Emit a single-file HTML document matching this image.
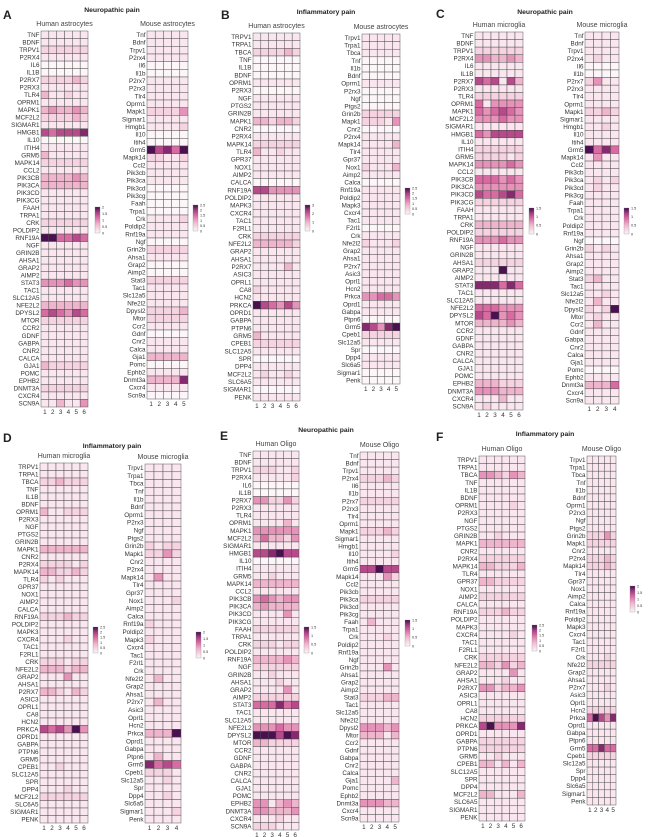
<!DOCTYPE html>
<html><head><meta charset="utf-8">
<style>
html,body{margin:0;padding:0;background:#fff;width:650px;height:837px;overflow:hidden}
svg{display:block}
text{font-family:"Liberation Sans",sans-serif}
</style></head>
<body>
<svg id="s" width="650" height="837" viewBox="0 0 650 837" xmlns="http://www.w3.org/2000/svg">
<defs><linearGradient id="cb" x1="0" y1="1" x2="0" y2="0">
<stop offset="0" stop-color="#fdf6f9"/><stop offset="0.35" stop-color="#eeb5cd"/><stop offset="0.6" stop-color="#d86ba1"/><stop offset="0.8" stop-color="#a23f83"/><stop offset="1" stop-color="#3e0d48"/></linearGradient></defs>
</svg>
<script>
const C=["#fdf6f9","#f9e6ee","#f5d3e1","#eeb5cd","#e693b9","#d86ba1","#b74a8a","#86296f","#4a1150"];
const svg=document.getElementById('s');let h='';
function t(x,y,s,o){o=o||{};h+=`<text x="${x}" y="${y}" font-size="${o.fs||6.3}" fill="${o.c||'#333'}" text-anchor="${o.a||'end'}" ${o.b?'font-weight="bold"':''}>${s}</text>`;}
function grid(x0,x1,top,bot,n,rows,sub){
 const cw=(x1-x0)/n, rh=(bot-top)/rows.length;
 rows.forEach((r,i)=>{const [name,v]=r.split(':');const lv=v.length==1?v.repeat(n):v;
  for(let j=0;j<n;j++){h+=`<rect x="${(x0+j*cw).toFixed(2)}" y="${(top+i*rh).toFixed(2)}" width="${cw.toFixed(2)}" height="${rh.toFixed(2)}" fill="${C[+lv[j]]}" stroke="#4a4a4a" stroke-width="0.45"/>`;}
  t(x0-1.5,top+i*rh+rh/2+2.2,name);});
 for(let j=0;j<n;j++)t(x0+j*cw+cw/2,bot+7,j+1,{a:'middle'});
 t((x0+x1)/2,top-5,sub,{a:'middle',fs:7,c:'#444'});
}
function cbar(x,y,labs){h+=`<rect x="${x}" y="${y}" width="5" height="26" fill="url(#cb)" stroke="#888" stroke-width="0.3"/>`;
 labs.forEach((l,i)=>t(x+7,y+26-i*26/(labs.length-1)+1.3,l,{a:'start',fs:3.8}));}
function head(L,lx,ly,title,tx,ty){t(lx,ly,L,{a:'start',fs:12,b:1,c:'#222'});t(tx,ty,title,{a:'middle',fs:6.8,b:1,c:'#222'});}
const sp=s=>s.trim().split(/\s+/);

// A
head('A',3,19,'Neuropathic pain',112,12);
grid(41,88,31,407,6,sp(`TNF:1 BDNF:1 TRPV1:2 P2RX4:1 IL6:0 IL1B:0 P2RX7:222232 P2RX3:1 TLR4:311211 OPRM1:1 MAPK1:343343 MCF2L2:222232 SIGMAR1:1 HMGB1:656667 IL10:0 ITIH4:1 GRM5:311111 MAPK14:2 CCL2:1 PIK3CB:333343 PIK3CA:3 PIK3CD:1 PIK3CG:1 FAAH:1 TRPA1:1 CRK:2 POLDIP2:1 RNF19A:885565 NGF:1 GRIN2B:1 AHSA1:1 GRAP2:1 AIMP2:1 STAT3:444544 TAC1:1 SLC12A5:1 NFE2L2:3 DPYSL2:565465 MTOR:2 CCR2:1 GDNF:1 GABPA:1 CNR2:1 CALCA:1 GJA1:322222 POMC:1 EPHB2:1 DNMT3A:2 CXCR4:1 SCN9A:113114`),'Human astrocytes');
grid(147,188,31,399,5,sp(`Tnf:1 Bdnf:1 Trpv1:1 P2rx4:1 Il6:0 Il1b:0 P2rx7:1 P2rx3:1 Tlr4:1 Oprm1:1 Mapk1:22224 Sigmar1:1 Hmgb1:11112 Il10:0 Itih4:0 Grm5:86758 Mapk14:22112 Ccl2:1 Pik3cb:1 Pik3ca:1 Pik3cd:0 Pik3cg:0 Faah:0 Trpa1:0 Crk:11112 Poldip2:1 Rnf19a:1 Ngf:0 Grin2b:2 Ahsa1:1 Grap2:0 Aimp2:0 Stat3:2 Tac1:1 Slc12a5:1 Nfe2l2:1 Dpysl2:22223 Mtor:2 Ccr2:1 Gdnf:0 Cnr2:1 Calca:1 Gja1:3 Pomc:0 Ephb2:1 Dnmt3a:33337 Cxcr4:1 Scn9a:0`),'Mouse astrocytes');
cbar(95,207,['0','0.5','1','1.5','2']);cbar(193,205,['0','0.5','1','1.5','2','2.5']);

// B
head('B',221,19,'Inflammatory pain',326,14);
grid(253,300,33,401,6,sp(`TRPV1:1 TRPA1:1 TBCA:222232 TNF:0 IL1B:0 BDNF:0 OPRM1:1 P2RX3:0 NGF:1 PTGS2:1 GRIN2B:1 MAPK1:332332 CNR2:0 P2RX4:1 MAPK14:2 TLR4:311211 GPR37:1 NOX1:1 AIMP2:1 CALCA:0 RNF19A:664444 POLDIP2:1 MAPK3:1 CXCR4:1 TAC1:1 F2RL1:1 CRK:2 NFE2L2:333332 GRAP2:1 AHSA1:1 P2RX7:111131 ASIC3:1 OPRL1:1 CA8:211111 HCN2:1 PRKCA:865464 OPRD1:1 GABPA:1 PTPN6:1 GRM5:311111 CPEB1:2 SLC12A5:1 SPR:0 DPP4:1 MCF2L2:121121 SLC6A5:1 SIGMAR1:0 PENK:1`),'Human astrocytes');
grid(362,400,34,384,5,sp(`Trpv1:1 Trpa1:1 Tbca:1 Tnf:0 Il1b:0 Bdnf:0 Oprm1:1 P2rx3:0 Ngf:0 Ptgs2:0 Grin2b:2 Mapk1:22214 Cnr2:0 P2rx4:1 Mapk14:11113 Tlr4:1 Gpr37:1 Nox1:21113 Aimp2:1 Calca:0 Rnf19a:1 Poldip2:1 Mapk3:1 Cxcr4:1 Tac1:1 F2rl1:0 Crk:1 Nfe2l2:21112 Grap2:1 Ahsa1:1 P2rx7:1 Asic3:1 Oprl1:1 Hcn2:1 Prkca:44554 Oprd1:1 Gabpa:1 Ptpn6:0 Grm5:76478 Cpeb1:2 Slc12a5:1 Spr:0 Dpp4:1 Slc6a5:1 Sigmar1:0 Penk:0`),'Mouse astrocytes');
cbar(305,205,['0','1','2','3']);cbar(405,188,['0','0.5','1','1.5','2','2.5']);

// C
head('C',436,18,'Neuropathic pain',545,14);
grid(475,523,32,410,6,sp(`TNF:1 BDNF:1 TRPV1:2 P2RX4:443343 IL6:1 IL1B:1 P2RX7:656163 P2RX3:1 TLR4:2 OPRM1:514444 MAPK1:545654 MCF2L2:444544 SIGMAR1:1 HMGB1:546666 IL10:1 ITIH4:2 GRM5:222212 MAPK14:444454 CCL2:1 PIK3CB:555454 PIK3CA:4 PIK3CD:655675 PIK3CG:2 FAAH:1 TRPA1:1 CRK:3 POLDIP2:2 RNF19A:444544 NGF:1 GRIN2B:1 AHSA1:2 GRAP2:111811 AIMP2:1 STAT3:777575 TAC1:1 SLC12A5:1 NFE2L2:555444 DPYSL2:658454 MTOR:333343 CCR2:1 GDNF:1 GABPA:1 CNR2:1 CALCA:1 GJA1:1 POMC:1 EPHB2:333222 DNMT3A:444333 CXCR4:111311 SCN9A:121111`),'Human microglia');
grid(585,619,32,404,4,sp(`Tnf:1 Bdnf:1 Trpv1:1 P2rx4:1211 Il6:0 Il1b:0 P2rx7:2411 P2rx3:1 Tlr4:1 Oprm1:1 Mapk1:2232 Sigmar1:1 Hmgb1:1121 Il10:1 Itih4:1 Grm5:8575 Mapk14:1411 Ccl2:1 Pik3cb:1 Pik3ca:1212 Pik3cd:1211 Pik3cg:1 Faah:1 Trpa1:1 Crk:1 Poldip2:1 Rnf19a:1 Ngf:0 Grin2b:2121 Ahsa1:1 Grap2:1 Aimp2:1 Stat3:2311 Tac1:1 Slc12a5:1121 Nfe2l2:1311 Dpysl2:2128 Mtor:1211 Ccr2:1311 Gdnf:1 Gabpa:1 Cnr2:1 Calca:1 Gja1:1 Pomc:0 Ephb2:1 Dnmt3a:3335 Cxcr4:1 Scn9a:1`),'Mouse microglia');
cbar(529,208,['0','0.5','1','1.5']);cbar(624,208,['0','0.5','1','1.5']);

// D
head('D',3,442,'Inflammatory pain',112,448);
grid(40,88,463,823,6,sp(`TRPV1:1 TRPA1:1 TBCA:223222 TNF:1 IL1B:1 BDNF:1 OPRM1:311222 P2RX3:1 NGF:1 PTGS2:1 GRIN2B:1 MAPK1:3 CNR2:1 P2RX4:222212 MAPK14:332232 TLR4:212111 GPR37:1 NOX1:1 AIMP2:1 CALCA:1 RNF19A:222322 POLDIP2:1 MAPK3:1 CXCR4:111211 TAC1:1 F2RL1:1 CRK:222122 NFE2L2:333233 GRAP2:111411 AHSA1:1 P2RX7:332132 ASIC3:1 OPRL1:1 CA8:1 HCN2:1 PRKCA:656484 OPRD1:1 GABPA:1 PTPN6:1 GRM5:1 CPEB1:112111 SLC12A5:1 SPR:1 DPP4:111211 MCF2L2:2 SLC6A5:1 SIGMAR1:1 PENK:1`),'Human microglia');
grid(145,181,464,823,4,sp(`Trpv1:1 Trpa1:1 Tbca:1 Tnf:1 Il1b:1 Bdnf:1 Oprm1:1 P2rx3:1 Ngf:1 Ptgs2:1 Grin2b:2122 Mapk1:2242 Cnr2:1 P2rx4:1 Mapk14:1411 Tlr4:1 Gpr37:1 Nox1:1112 Aimp2:1 Calca:1 Rnf19a:2111 Poldip2:1 Mapk3:2111 Cxcr4:1 Tac1:1 F2rl1:1 Crk:1 Nfe2l2:1311 Grap2:1 Ahsa1:1 P2rx7:1311 Asic3:1 Oprl1:1 Hcn2:1 Prkca:3338 Oprd1:1 Gabpa:1 Ptpn6:1311 Grm5:7565 Cpeb1:2221 Slc12a5:1121 Spr:1 Dpp4:1121 Slc6a5:1 Sigmar1:1112 Penk:1`),'Mouse microglia');
cbar(93,627,['0','0.5','1','1.5','2','2.5']);cbar(196,632,['0','0.5','1','1.5','2']);

// E
head('E',220,440,'Neuropathic pain',326,432);
grid(253,299,451,830,6,sp(`TNF:1 BDNF:1 TRPV1:222112 P2RX4:111112 IL6:0 IL1B:0 P2RX7:442242 P2RX3:1 TLR4:1 OPRM1:111131 MAPK1:4 MCF2L2:353324 SIGMAR1:1 HMGB1:667866 IL10:0 ITIH4:1 GRM5:112111 MAPK14:3 CCL2:1 PIK3CB:454344 PIK3CA:343333 PIK3CD:111141 PIK3CG:1 FAAH:2 TRPA1:1 CRK:222122 POLDIP2:1 RNF19A:333343 NGF:2 GRIN2B:112111 AHSA1:111211 GRAP2:111141 AIMP2:2 STAT3:555756 TAC1:1 SLC12A5:1 NFE2L2:444544 DPYSL2:888687 MTOR:332222 CCR2:1 GDNF:1 GABPA:1 CNR2:1 CALCA:1 GJA1:1 POMC:1 EPHB2:441343 DNMT3A:443334 CXCR4:111211 SCN9A:222111`),'Human Oligo');
grid(360,399,452,822,5,sp(`Tnf:1 Bdnf:1 Trpv1:1 P2rx4:22232 Il6:1 Il1b:1 P2rx7:2 P2rx3:1 Tlr4:1 Oprm1:1 Mapk1:22232 Sigmar1:1 Hmgb1:1 Il10:11112 Itih4:1 Grm5:66866 Mapk14:11142 Ccl2:1 Pik3cb:1 Pik3ca:2 Pik3cd:1 Pik3cg:1 Faah:13111 Trpa1:1 Crk:11121 Poldip2:1 Rnf19a:1 Ngf:1 Grin2b:11141 Ahsa1:1 Grap2:1 Aimp2:1 Stat3:22233 Tac1:1 Slc12a5:1 Nfe2l2:1 Dpysl2:44434 Mtor:33313 Ccr2:1 Gdnf:1 Gabpa:1 Cnr2:1 Calca:1 Gja1:11113 Pomc:1 Ephb2:1 Dnmt3a:44433 Cxcr4:1 Scn9a:1`),'Mouse Oligo');
cbar(304,627,['0','0.5','1','1.5']);cbar(405,620,['0','0.5','1','1.5']);

// F
head('F',436,441,'Inflammatory pain',545,436);
grid(479,525,456,821,6,sp(`TRPV1:1 TRPA1:1 TBCA:443243 TNF:1 IL1B:1 BDNF:1 OPRM1:111121 P2RX3:1 NGF:1 PTGS2:1 GRIN2B:112111 MAPK1:3 CNR2:1 P2RX4:2 MAPK14:332223 TLR4:1 GPR37:332222 NOX1:1 AIMP2:2 CALCA:1 RNF19A:222322 POLDIP2:1 MAPK3:1 CXCR4:111121 TAC1:1 F2RL1:1 CRK:2 NFE2L2:332423 GRAP2:111141 AHSA1:111211 P2RX7:442334 ASIC3:1 OPRL1:1 CA8:1 HCN2:2 PRKCA:684447 OPRD1:1 GABPA:2 PTPN6:2 GRM5:112111 CPEB1:331313 SLC12A5:1 SPR:1 DPP4:1 MCF2L2:331113 SLC6A5:1 SIGMAR1:1 PENK:1`),'Human Oligo');
grid(587,616,456,805,5,sp(`Trpv1:1 Trpa1:1 Tbca:1 Tnf:1 Il1b:1 Bdnf:1 Oprm1:1 P2rx3:1 Ngf:1 Ptgs2:1 Grin2b:22242 Mapk1:2 Cnr2:1 P2rx4:22232 Mapk14:22232 Tlr4:1 Gpr37:1 Nox1:1 Aimp2:1 Calca:1 Rnf19a:1 Poldip2:1 Mapk3:1 Cxcr4:1 Tac1:1 F2rl1:1 Crk:11121 Nfe2l2:2 Grap2:1 Ahsa1:1 P2rx7:11121 Asic3:1 Oprl1:1 Hcn2:2 Prkca:58647 Oprd1:1 Gabpa:1 Ptpn6:1 Grm5:55755 Cpeb1:2 Slc12a5:1 Spr:1 Dpp4:1 Slc6a5:1 Sigmar1:1 Penk:1`),'Mouse Oligo');
cbar(532,625,['0','0.5','1','1.5','2','2.5']);cbar(630,586,['0','0.5','1','1.5','2']);

svg.insertAdjacentHTML('beforeend',h);
</script>
</body></html>
